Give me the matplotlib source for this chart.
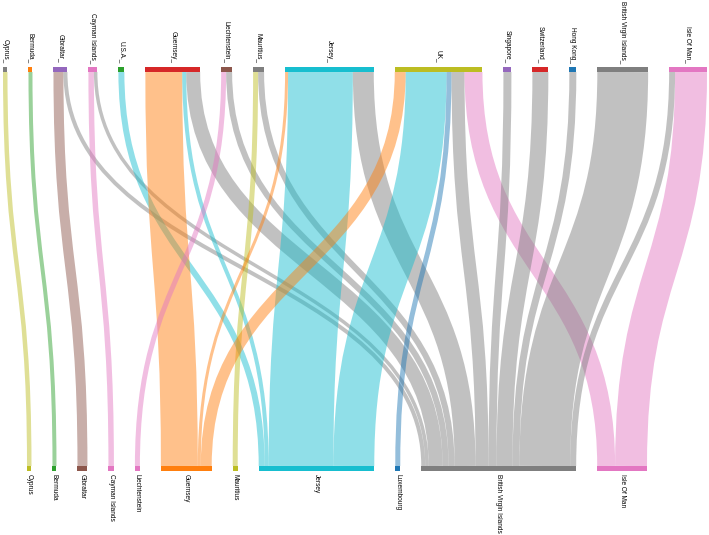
import matplotlib.pyplot as plt
from matplotlib.path import Path
from matplotlib.patches import PathPatch, Rectangle

# ── data ──────────────────────────────────────────────────────────────────────
top_nodes = ["Cyprus_", "Bermuda_", "Gibraltar_", "Cayman Islands_", "U.S.A._",
             "Guernsey_", "Liechtenstein_", "Mauritius_", "Jersey_", "UK_",
             "Singapore_", "Switzerland_", "Hong Kong_",
             "British Virgin Islands_", "Isle Of Man_"]
bottom_nodes = ["Cyprus", "Bermuda", "Gibraltar", "Cayman Islands", "Liechtenstein",
                "Guernsey", "Mauritius", "Jersey", "Luxembourg",
                "British Virgin Islands", "Isle Of Man"]

link_source = ["Cyprus_", "Bermuda_", "Gibraltar_", "Gibraltar_",
               "Cayman Islands_", "Cayman Islands_", "U.S.A._",
               "Guernsey_", "Guernsey_", "Guernsey_",
               "Liechtenstein_", "Liechtenstein_", "Mauritius_", "Mauritius_",
               "Jersey_", "Jersey_", "Jersey_",
               "UK_", "UK_", "UK_", "UK_", "UK_",
               "Singapore_", "Switzerland_", "Hong Kong_",
               "British Virgin Islands_", "Isle Of Man_", "Isle Of Man_"]
link_target = ["Cyprus", "Bermuda", "Gibraltar", "British Virgin Islands",
               "Cayman Islands", "British Virgin Islands", "Jersey",
               "Guernsey", "Jersey", "British Virgin Islands",
               "Liechtenstein", "British Virgin Islands", "Mauritius", "British Virgin Islands",
               "Guernsey", "Jersey", "British Virgin Islands",
               "Guernsey", "Jersey", "Luxembourg", "British Virgin Islands", "Isle Of Man",
               "British Virgin Islands", "British Virgin Islands", "British Virgin Islands",
               "British Virgin Islands", "British Virgin Islands", "Isle Of Man"]
link_value = [4.5, 4, 10, 4,
              5.5, 3.5, 6,
              37, 4, 14,
              5, 6, 5, 6,
              3, 65, 21,
              11, 41, 5, 13, 18,
              8, 16, 7,
              51, 6, 32]

# ── styles ────────────────────────────────────────────────────────────────────
top_colors = ["#7f7f7f", "#ff7f0e", "#9467bd", "#e377c2", "#2ca02c",
              "#d62728", "#8c564b", "#7f7f7f", "#17becf", "#bcbd22",
              "#9467bd", "#d62728", "#1f77b4", "#7f7f7f", "#e377c2"]
bottom_colors = ["#bcbd22", "#2ca02c", "#8c564b", "#e377c2", "#e377c2",
                 "#ff7f0e", "#bcbd22", "#17becf", "#1f77b4", "#7f7f7f", "#e377c2"]

W, H, DPI = 709, 535, 100
PAD = 21
TOP_X0, TOP_X1 = 3, 707
BOT_X0 = 27
TOP_Y, BOT_Y, NODE_H = 67, 466, 5
FONT = dict(family=["Liberation Sans", "DejaVu Sans"], fontsize=4.7, color="black")


def node_value(names, key):
    tot = {n: 0.0 for n in names}
    for s, t, v in zip(link_source, link_target, link_value):
        n = s if key == "s" else t
        tot[n] = tot.get(n, 0) + v
    return [tot[n] for n in names]


top_vals = node_value(top_nodes, "s")
bot_vals = node_value(bottom_nodes, "t")
k = (TOP_X1 - TOP_X0 - PAD * (len(top_nodes) - 1)) / sum(top_vals)


def layout(names, vals, x0):
    pos, x = {}, x0
    for n, v in zip(names, vals):
        pos[n] = (x, x + v * k)
        x += v * k + PAD
    return pos


top_pos = layout(top_nodes, top_vals, TOP_X0)
bot_pos = layout(bottom_nodes, bot_vals, BOT_X0)

fig = plt.figure(figsize=(W / DPI, H / DPI), dpi=DPI)
ax = fig.add_axes([0, 0, 1, 1])
ax.set_xlim(0, W)
ax.set_ylim(H, 0)
ax.axis("off")

# link offsets inside each node: ordered by the other end's position
links = list(zip(link_source, link_target, link_value))
src_off, tgt_off = {}, {}
for n in top_nodes:
    x = top_pos[n][0]
    for i in sorted([i for i, l in enumerate(links) if l[0] == n],
                    key=lambda i: bot_pos[links[i][1]][0]):
        src_off[i] = x
        x += links[i][2] * k
for n in bottom_nodes:
    x = bot_pos[n][0]
    for i in sorted([i for i, l in enumerate(links) if l[1] == n],
                    key=lambda i: top_pos[links[i][0]][0]):
        tgt_off[i] = x
        x += links[i][2] * k

y0, y1 = TOP_Y + NODE_H, BOT_Y
ym = (y0 + y1) / 2
for i, (s, t, v) in enumerate(links):
    w = v * k
    xs = src_off[i] + w / 2
    xt = tgt_off[i] + w / 2
    path = Path([(xs, y0), (xs, ym), (xt, ym), (xt, y1)],
                [Path.MOVETO, Path.CURVE4, Path.CURVE4, Path.CURVE4])
    col = bottom_colors[bottom_nodes.index(t)]
    ax.add_patch(PathPatch(path, facecolor="none", edgecolor=col, alpha=0.48,
                           lw=w * 72 / DPI, capstyle="butt", zorder=1))

for n, c in zip(top_nodes, top_colors):
    a, b = top_pos[n]
    ax.add_patch(Rectangle((a, TOP_Y), b - a, NODE_H, color=c, lw=0, zorder=2))
    ax.text((a + b) / 2, TOP_Y - 4, n, rotation=270, ha="center", va="bottom", **FONT)

for n, c in zip(bottom_nodes, bottom_colors):
    a, b = bot_pos[n]
    ax.add_patch(Rectangle((a, BOT_Y), b - a, NODE_H, color=c, lw=0, zorder=2))
    ax.text((a + b) / 2, BOT_Y + NODE_H + 3, n, rotation=270, ha="center", va="top", **FONT)

fig.savefig("out.png", dpi=DPI)
